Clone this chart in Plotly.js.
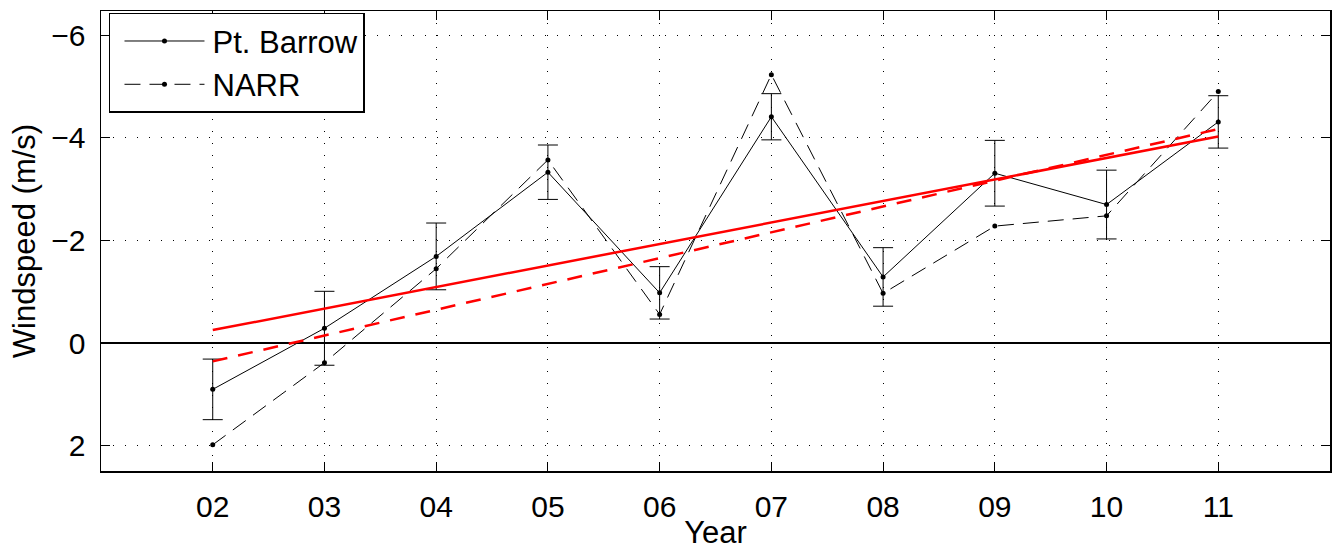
<!DOCTYPE html>
<html>
<head>
<meta charset="utf-8">
<script src="https://cdn.plot.ly/plotly-3.0.1.min.js"></script>
<style>html,body{margin:0;padding:0;background:#fff;}#chart{width:1335px;height:550px;}</style>
</head>
<body>
<div id="chart"></div>
<script>
const years = [2, 3, 4, 5, 6, 7, 8, 9, 10, 11];
const yearLabels = ['02', '03', '04', '05', '06', '07', '08', '09', '10', '11'];
const barrow = [0.90, -0.29, -1.69, -3.33, -0.98, -4.41, -1.29, -3.31, -2.70, -4.31];
const barrowErr = [0.59, 0.72, 0.65, 0.53, 0.51, 0.45, 0.57, 0.64, 0.67, 0.51];
const narr = [1.98, 0.38, -1.45, -3.57, -0.56, -5.23, -0.97, -2.28, -2.48, -4.90];
const yTickVals = [-6, -4, -2, 0, 2];
const yTickText = ['\u22126', '\u22124', '\u22122', '0', '2'];

function fit(xs, ys) {
  const n = xs.length;
  const mx = xs.reduce((a, b) => a + b, 0) / n;
  const my = ys.reduce((a, b) => a + b, 0) / n;
  let sxy = 0, sxx = 0;
  for (let i = 0; i < n; i++) { sxy += (xs[i] - mx) * (ys[i] - my); sxx += (xs[i] - mx) ** 2; }
  const b = sxy / sxx;
  const ends = [xs[0], xs[n - 1]];
  return { x: ends, y: ends.map(x => my + b * (x - mx)) };
}
const fitB = fit(years, barrow);
const fitN = fit(years, narr);

const font = 'Liberation Sans, Arial, Helvetica, sans-serif';

const traces = [
  {
    x: years, y: barrow, name: 'Pt. Barrow', type: 'scatter', mode: 'lines+markers',
    line: { color: '#000', width: 1 }, marker: { color: '#000', size: 5 },
    error_y: { type: 'data', array: barrowErr, visible: true, color: '#000', thickness: 1, width: 10 }
  },
  {
    x: years, y: narr, name: 'NARR', type: 'scatter', mode: 'lines+markers',
    line: { color: '#000', width: 1, dash: '16px,9px' }, marker: { color: '#000', size: 5 }
  },
  {
    x: fitB.x, y: fitB.y, type: 'scatter', mode: 'lines', showlegend: false,
    line: { color: '#ff0000', width: 2.5 }
  },
  {
    x: fitN.x, y: fitN.y, type: 'scatter', mode: 'lines', showlegend: false,
    line: { color: '#ff0000', width: 2.5, dash: '15px,11px' }
  }
];

const layout = {
  width: 1335, height: 550,
  margin: { l: 101, r: 5, t: 11, b: 79 },
  paper_bgcolor: '#fff', plot_bgcolor: '#fff',
  font: { family: font, size: 30, color: '#000' },
  showlegend: true,
  legend: {
    x: 0.0065, y: 0.996, xanchor: 'left', yanchor: 'top',
    bgcolor: '#fff', bordercolor: '#000', borderwidth: 1.5,
    font: { family: font, size: 31, color: '#000' },
    tracegroupgap: 0, itemwidth: 92
  },
  xaxis: {
    range: [1, 12], tickmode: 'array', tickvals: years, ticktext: yearLabels,
    ticks: 'inside', ticklen: 9, tickwidth: 1, tickcolor: '#000',
    showline: true, linecolor: '#000', linewidth: 1.5, mirror: 'ticks',
    showgrid: true, gridcolor: '#000', gridwidth: 1, griddash: '1px,11px',
    zeroline: false, ticklabelstandoff: 8,
    title: { text: 'Year', font: { family: font, size: 31 }, standoff: 0 }
  },
  yaxis: {
    range: [2.49, -6.47], tickmode: 'array', tickvals: yTickVals, ticktext: yTickText,
    ticks: 'inside', ticklen: 9, tickwidth: 1, tickcolor: '#000',
    showline: true, linecolor: '#000', linewidth: 1.5, mirror: 'ticks',
    showgrid: true, gridcolor: '#000', gridwidth: 1, griddash: '1px,11px',
    zeroline: true, zerolinecolor: '#000', zerolinewidth: 1.5,
    ticklabelstandoff: 8,
    title: { text: 'Windspeed (m/s)', font: { family: font, size: 31 }, standoff: 6 }
  }
};

Plotly.newPlot('chart', traces, layout, { displayModeBar: false, staticPlot: true }).then(gd => {
  // stretch legend line samples to MATLAB-like length
  gd.querySelectorAll('.legend .traces').forEach(t => {
    t.querySelectorAll('.legendlines path').forEach(p => p.setAttribute('d', 'M14,0h80'));
    t.querySelectorAll('.legendpoints path').forEach(p => p.setAttribute('transform', 'translate(54,0)'));
  });
});
</script>
</body>
</html>
